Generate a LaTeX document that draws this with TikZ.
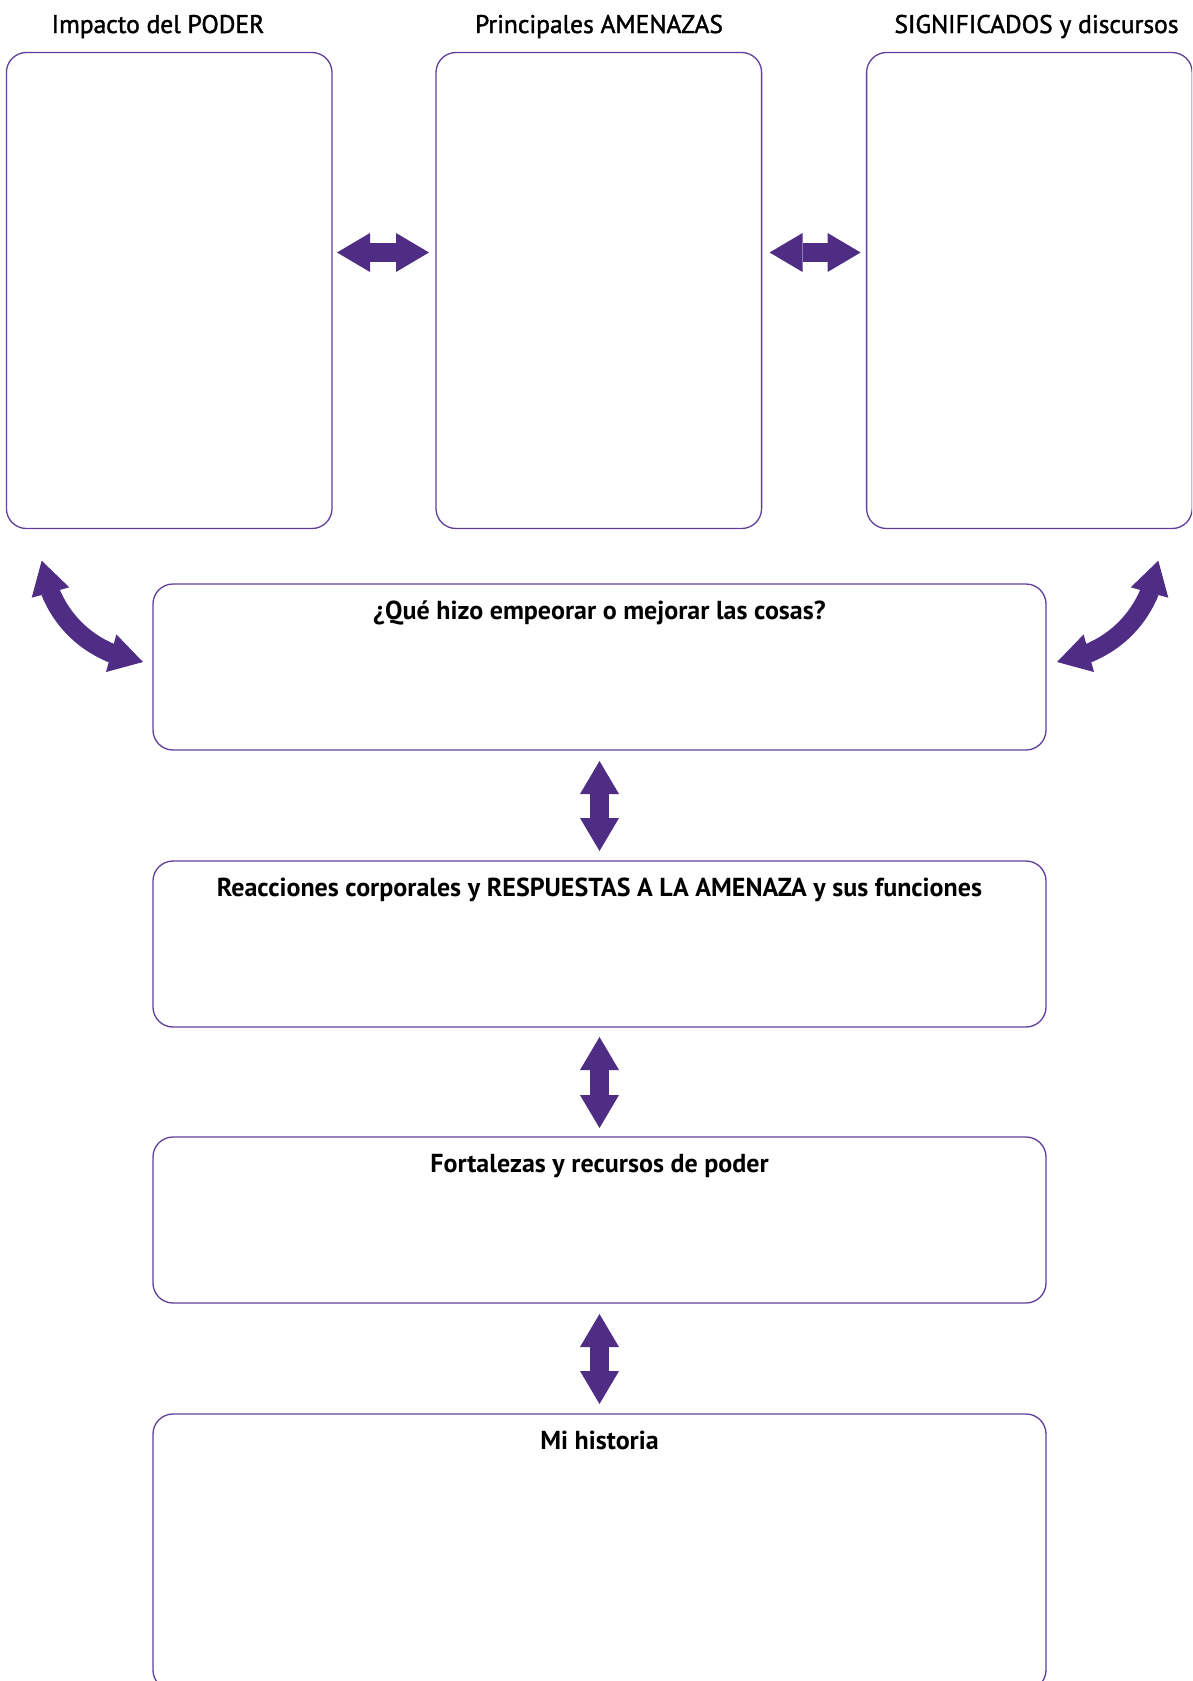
\documentclass[tikz,border=0pt]{standalone}
\usepackage{fontspec}
\setmainfont{PT Sans}
\newfontfamily\medio[FakeBold=1.6]{PT Sans}
\usetikzlibrary{arrows.meta}
\usetikzlibrary{bending}
\usetikzlibrary{positioning}
\definecolor{violeta}{HTML}{4F2D85}
\definecolor{borde}{HTML}{5E3F99}

\begin{document}
\begin{tikzpicture}[x=1pt,y=1pt,
  caja/.style={draw=borde, line width=1.3pt, rounded corners=20pt, inner sep=0pt, outer sep=0pt},
  alta/.style={caja, minimum width=325.6pt, minimum height=476pt},
  ancha/.style={caja, minimum width=893pt, minimum height=166pt},
  cabecera/.style={anchor=base, font=\medio\fontsize{25.5}{30}\selectfont},
  titulo/.style={anchor=base, font=\bfseries\fontsize{26}{30}\selectfont},
  punta/.tip={Triangle[width=39pt, length=33pt, line width=0pt, flex]},
  flecha/.style={draw=violeta, line width=19pt, arrows={punta-punta}}]
  \useasboundingbox (0,0) rectangle (1192,-1681);
  \clip (0,0) rectangle (1192,-1681);
  \node[alta] (poder) at (169.2,-290.5) {};
  \node[alta, right=104pt of poder] (amenazas) {};
  \node[alta, right=105pt of amenazas] (significados) {};
  \node[cabecera] (tpoder) at (158,-33) {Impacto del PODER};
  \node[cabecera] (tamenazas) at (599,-33) {Principales AMENAZAS};
  \node[cabecera] (tsignificados) at (1036.5,-33) {SIGNIFICADOS y discursos};
  \node[ancha] (cosas) at (599.5,-667) {};
  \node[ancha, below=111pt of cosas] (reacciones) {};
  \node[ancha, below=110pt of reacciones] (fortalezas) {};
  \node[ancha, minimum height=276pt, below=111pt of fortalezas] (historia) {};
  \node[titulo] (tcosas) at ([yshift=-35pt]cosas.north) {¿Qué hizo empeorar o mejorar las cosas?};
  \node[titulo] (treacciones) at ([yshift=-35pt]reacciones.north) {Reacciones corporales y RESPUESTAS A LA AMENAZA y sus funciones};
  \node[titulo] (tfortalezas) at ([yshift=-35pt]fortalezas.north) {Fortalezas y recursos de poder};
  \node[titulo] (thistoria) at ([yshift=-35pt]historia.north) {Mi historia};
  \draw[flecha, shorten <=5pt, shorten >=7pt] ([yshift=38pt]poder.east) -- ([yshift=38pt]amenazas.west);
  \draw[flecha, shorten <=8pt, shorten >=6pt] ([yshift=38pt]amenazas.east) -- ([yshift=38pt]significados.west);
  \draw[flecha, shorten <=11pt, shorten >=10pt] (cosas.south) -- (reacciones.north);
  \draw[flecha, shorten <=10pt, shorten >=9pt] (reacciones.south) -- (fortalezas.north);
  \draw[flecha, shorten <=11pt, shorten >=10pt] (fortalezas.south) -- (historia.north);
  \coordinate (ia) at (41.7,-560.7);
  \coordinate (ib) at (143,-662);
  \coordinate (da) at (1158.3,-560.7);
  \coordinate (db) at (1057,-662);
  \draw[flecha] (ia) to[out=-81, in=171] (ib);
  \draw[flecha] (da) to[out=-99, in=9] (db);
\end{tikzpicture}
\end{document}
